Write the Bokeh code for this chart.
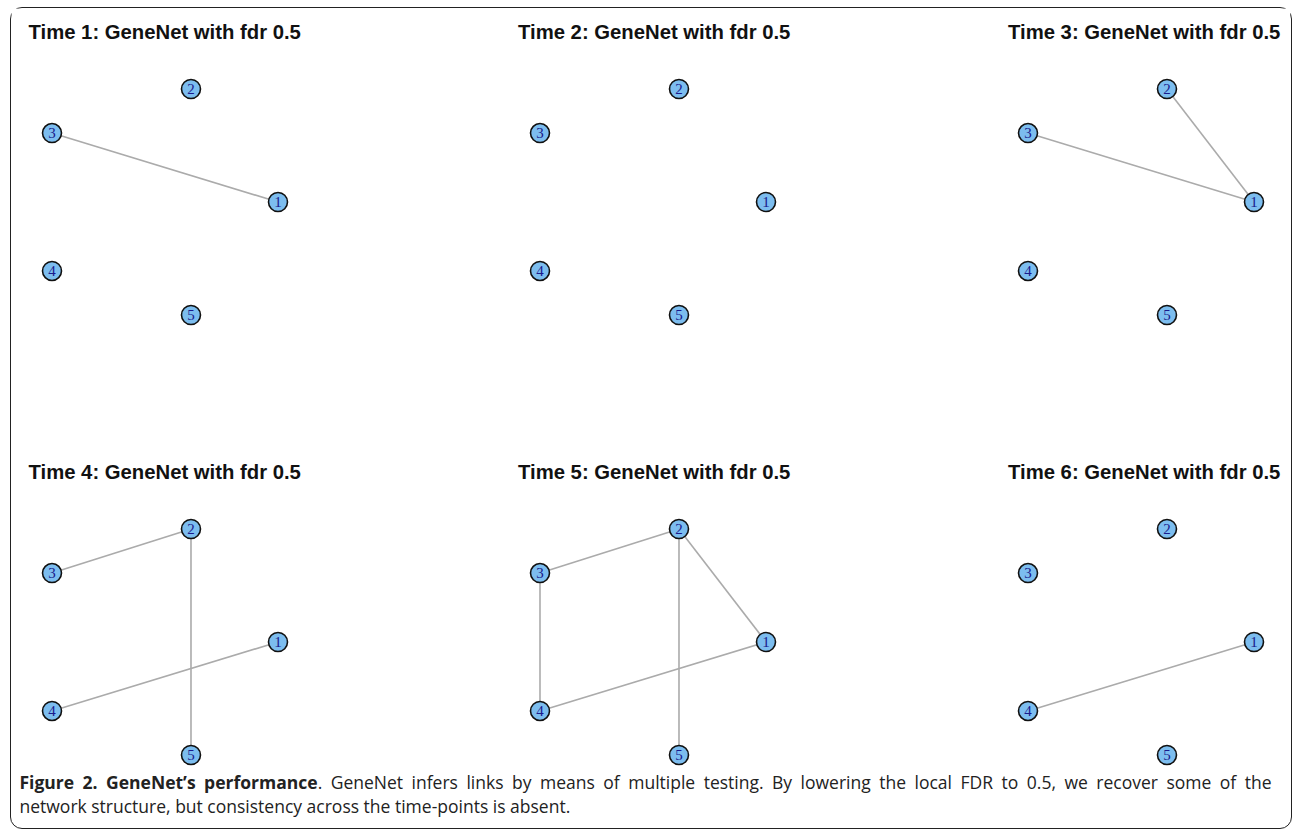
from bokeh.plotting import figure
from bokeh.layouts import row, column
from bokeh.models import Div, Range1d, ColumnDataSource
from bokeh.core.properties import value
from bokeh.embed import file_html
from bokeh.resources import INLINE

# ---- data ----
node_ids = ["1", "2", "3", "4", "5"]
node_x = [1.0, 0.23, -1.0, -1.0, 0.23]
node_y = [0.0, 1.0, 0.61, -0.61, -1.0]

titles = [
    "Time 1: GeneNet with fdr 0.5",
    "Time 2: GeneNet with fdr 0.5",
    "Time 3: GeneNet with fdr 0.5",
    "Time 4: GeneNet with fdr 0.5",
    "Time 5: GeneNet with fdr 0.5",
    "Time 6: GeneNet with fdr 0.5",
]
edges_t1 = [("3", "1")]
edges_t2 = []
edges_t3 = [("3", "1"), ("2", "1")]
edges_t4 = [("3", "2"), ("2", "5"), ("4", "1")]
edges_t5 = [("3", "2"), ("2", "5"), ("2", "1"), ("3", "4"), ("4", "1")]
edges_t6 = [("4", "1")]
all_edges = [edges_t1, edges_t2, edges_t3, edges_t4, edges_t5, edges_t6]

caption_bold = "Figure 2. GeneNet\u2019s performance"
caption_line1 = ". GeneNet infers links by means of multiple testing. By lowering the local FDR to 0.5, we recover some of the"
caption_line2 = "network structure, but consistency across the time-points is absent."

# ---- layout / style constants ----
S = 113.0                    # pixels per layout unit
col_w = [488, 488, 303]
left_off = [40.5, 40.5, 40.5]  # px from panel left to x=-1
title_off = [17, 18.5, 20.5]
row_h = [440, 322]
node_top_off = 80.5          # px from panel top to y=+1
MB = 40                      # top border (title area)

NODE_FILL = "#7CBDEF"
EDGE_COL = "#ABABAB"

pos = {n: (x, y) for n, x, y in zip(node_ids, node_x, node_y)}


def make_panel(i):
    r, c = divmod(i, 3)
    w, h = col_w[c], row_h[r]
    xs = -1 - left_off[c] / S
    xe = xs + w / S
    ye = 1 + (node_top_off - MB) / S
    ys = ye - (h - MB) / S
    p = figure(width=w, height=h, x_range=Range1d(xs, xe), y_range=Range1d(ys, ye),
               output_backend="svg", toolbar_location=None,
               x_axis_type=None, y_axis_type=None,
               min_border_left=0, min_border_right=0, min_border_bottom=0,
               min_border_top=MB)
    p.outline_line_color = None
    p.background_fill_color = "white"
    p.border_fill_color = "white"
    p.title.text = titles[i]
    p.title.text_font = "Liberation Sans"
    p.title.text_font_style = "bold"
    p.title.text_font_size = "20.3px"
    p.title.text_color = "#111111"
    p.title.align = "left"
    p.title.offset = title_off[c]
    p.title.standoff = 11

    e = all_edges[i]
    if e:
        src = ColumnDataSource(dict(
            x0=[pos[a][0] for a, b in e], y0=[pos[a][1] for a, b in e],
            x1=[pos[b][0] for a, b in e], y1=[pos[b][1] for a, b in e]))
        p.segment("x0", "y0", "x1", "y1", source=src, line_color=EDGE_COL, line_width=1.6)

    ns = ColumnDataSource(dict(x=node_x, y=node_y, label=node_ids))
    p.scatter("x", "y", source=ns, size=19, fill_color=NODE_FILL,
              line_color="#111111", line_width=1.6)
    p.text("x", "y", text="label", source=ns, text_align="center", text_baseline="middle",
           text_font=value("Liberation Serif"), text_font_size="15px", text_color="#1a1a8c")
    return p


panels = [make_panel(i) for i in range(6)]

cap_style = ("font-family:'Open Sans';font-size:17.5px;line-height:24px;color:#222;"
             "width:1252px;margin:0 0 0 8.5px;")
caption = Div(
    text=(f"<div style=\"{cap_style}\">"
          f"<div style='text-align:justify;text-align-last:justify;width:1252px;'><b>{caption_bold}</b>{caption_line1}</div>"
          f"<div>{caption_line2}</div></div>"),
    width=1279, height=58, margin=0)

layout = column(
    row(*panels[:3], spacing=0), row(*panels[3:], spacing=0), caption,
    styles={"border": "1.5px solid #222", "border-radius": "12px", "background": "white"},
    width=1282, spacing=0, margin=(7, 0, 0, 10),
)

open("out.html", "w").write(file_html(layout, INLINE))
